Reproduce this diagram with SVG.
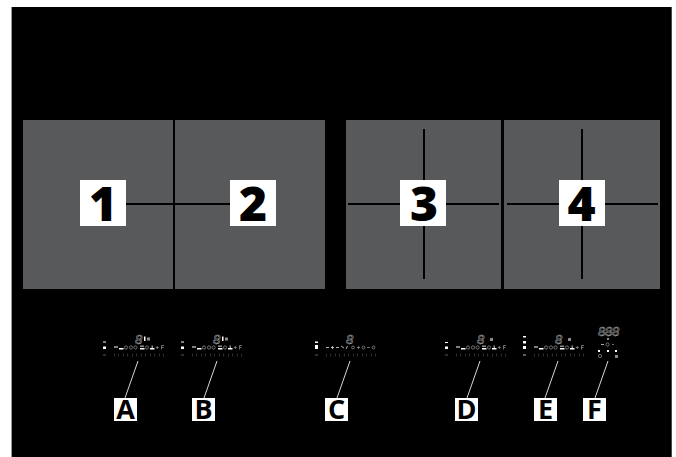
<svg xmlns="http://www.w3.org/2000/svg" xmlns:xlink="http://www.w3.org/1999/xlink" width="676" height="457" viewBox="0 0 676 457">
<style>
.panel{fill:#58595b}
.tag{fill:#fff}
.num{font-family:"Open Sans","Liberation Sans",sans-serif;font-weight:800;font-size:48px;text-anchor:middle;fill:#000}
.let{font-family:"Open Sans","Liberation Sans",sans-serif;font-weight:700;font-size:27px;text-anchor:middle;fill:#000}
.cut{stroke:#000;stroke-width:2;fill:none}
.lead{stroke:#d8d8d8;stroke-width:1;fill:none}
.seg{font-family:"Liberation Sans",sans-serif;font-style:italic;font-size:13px;fill:none;stroke:#d0d0d0;stroke-width:.4;text-anchor:middle}
.w{fill:#fff}
.g{fill:#8c8c8c}
.d{fill:#5a5a5a}
.ic{fill:none;stroke:#8c8c8c;stroke-width:.8}
</style>
<defs>
<g id="ticks">
<path d="M114.500 353.500v3M118.500 353.500v3M123.500 353.500v3M127.500 353.500v3M132.500 353.500v3M136.500 353.500v3M141.500 353.500v3M145.500 353.500v3M150.500 353.500v3M154.500 353.500v3M159.500 353.500v3M163.500 353.500v3" stroke="#3a3a3a" stroke-width=".8"/>
</g>
<g id="strip">
<rect class="w" x="114" y="346.500" width="4" height="1"/>
<rect class="w" x="119" y="348" width="4.500" height="1.500"/>
<circle class="ic" cx="126" cy="347.500" r="1.600"/>
<circle class="ic" cx="131" cy="347.500" r="1.600"/>
<circle class="ic" cx="135.500" cy="347.500" r="1.600"/>
<rect class="w" x="140" y="348" width="4.500" height="1.500"/>
<rect class="g" x="140" y="345.500" width="4" height="1.500"/>
<circle class="ic" cx="147" cy="347.500" r="1.600"/>
<rect class="w" x="150" y="348" width="4.500" height="1.500"/>
<rect class="g" x="151.500" y="345.500" width="1.500" height="2.500"/>
<path d="M155.800 347.500h3M157.300 346v3M161.500 349.500v-4h2.500M161.500 347.500h2" stroke="#8c8c8c" stroke-width=".8" fill="none"/>
<use href="#ticks"/>
</g>
</defs>
<rect x="0" y="0" width="676" height="457" fill="#fff"/>
<rect x="11" y="7" width="661" height="450" fill="#000"/>
<rect x="11" y="7" width="1" height="450" fill="#9a9a9a"/>
<rect x="671" y="7" width="1" height="450" fill="#4a4a4a"/>
<g id="panels">
<rect class="panel" x="23" y="120" width="150" height="169"/>
<rect class="panel" x="175" y="120" width="150" height="169"/>
<rect class="panel" x="346" y="120" width="155" height="169"/>
<rect class="panel" x="504" y="120" width="156" height="169"/>
</g>
<g id="connectors">
<path class="cut" d="M126 204H230M348 204H400M446 204H499M424 129V180M424 226V279M507 204H559M605 204H658M582 129V180M582 226V279"/>
<path class="lead" d="M125 398L138 361M204 398L217 361M337 398L350 361M467 398L480 361M545 398L558 361M595 398L608 361"/>
</g>
<g id="zone-1"><rect class="tag" x="80" y="180" width="46" height="46"/><text class="num" x="103" y="221">1</text></g>
<g id="zone-2"><rect class="tag" x="230" y="180" width="46" height="46"/><text class="num" x="253" y="221">2</text></g>
<g id="zone-3"><rect class="tag" x="400" y="180" width="46" height="46"/><text class="num" x="424" y="221">3</text></g>
<g id="zone-4"><rect class="tag" x="559" y="180" width="46" height="46"/><text class="num" x="581.500" y="221">4</text></g>
<g id="control-a">
<text class="seg" x="138.500" y="344">8</text>
<rect class="w" x="144" y="336.500" width="1.500" height="4.500"/><rect class="g" x="147" y="337.500" width="3" height="3"/>
<rect class="w" x="103" y="341.500" width="3" height="1"/><rect class="w" x="103" y="346.500" width="3" height="2.500"/><rect class="d" x="103" y="354.500" width="3" height="1"/>
<use href="#strip"/>
<rect class="tag" x="114" y="398" width="23" height="23"/><text class="let" x="125.500" y="419">A</text>
</g>
<g id="control-b">
<text class="seg" x="216.500" y="344">8</text>
<rect class="w" x="222" y="336.500" width="1.500" height="4.500"/><rect class="g" x="225" y="337.500" width="3" height="3"/>
<rect class="w" x="181" y="341.500" width="3" height="1"/><rect class="w" x="181" y="346.500" width="3" height="2.500"/><rect class="d" x="181" y="354.500" width="3" height="1"/>
<use href="#strip" x="78"/>
<rect class="tag" x="192" y="398" width="23" height="23"/><text class="let" x="203.500" y="419">B</text>
</g>
<g id="control-c">
<text class="seg" x="349.500" y="344">8</text>
<rect class="w" x="315" y="341.500" width="3" height="1.500"/><rect class="w" x="315" y="345" width="3" height="4"/><rect class="d" x="315" y="354.500" width="3" height="1"/>
<path d="M326 347.500h3M331 347.500h3M332.500 346v3M336 347.500h3M341 346l3 2M346 349l1.500-3" stroke="#c8c8c8" stroke-width=".9" fill="none"/>
<circle class="ic" cx="353" cy="347.500" r="1.400"/><path d="M357 347.500h3M358.500 346v3" stroke="#8c8c8c" stroke-width=".8"/><circle class="ic" cx="363.500" cy="347.500" r="1.400"/><path d="M367 347.500h3" stroke="#8c8c8c" stroke-width=".8"/><circle class="ic" cx="373.500" cy="347.500" r="1.400"/>
<use href="#ticks" x="212"/>
<rect class="tag" x="325" y="398" width="23" height="23"/><text class="let" x="336.500" y="419">C</text>
</g>
<g id="control-d">
<text class="seg" x="480.500" y="344">8</text>
<rect class="g" x="490" y="338" width="3" height="3"/>
<rect class="w" x="445" y="342" width="3" height="1"/><rect class="w" x="445" y="346.500" width="3" height="2.500"/><rect class="d" x="445" y="354.500" width="3" height="1"/>
<use href="#strip" x="342"/>
<rect class="tag" x="455" y="398" width="23" height="23"/><text class="let" x="466.500" y="419">D</text>
</g>
<g id="control-e">
<text class="seg" x="558.500" y="344">8</text>
<rect class="g" x="568" y="338" width="3" height="3"/>
<rect class="w" x="523" y="336" width="3" height="1.500"/><rect class="w" x="523" y="341" width="3" height="2.500"/><rect class="w" x="523" y="346" width="3" height="3"/><rect class="d" x="523" y="354" width="3" height="2"/>
<use href="#strip" x="420"/>
<rect class="tag" x="534" y="398" width="23" height="23"/><text class="let" x="545.500" y="419">E</text>
</g>
<g id="control-f">
<text class="seg" x="601.500" y="336">8</text><text class="seg" x="608.500" y="336">8</text><text class="seg" x="615.500" y="336">8</text>
<rect class="g" x="607" y="338" width="2" height="2"/>
<path d="M601 344.500h3" stroke="#aaa"/><circle class="ic" cx="607.500" cy="344.500" r="1.600"/><path d="M612 344.500h2" stroke="#666"/>
<rect class="w" x="598" y="350" width="2" height="2"/><rect class="w" x="607" y="350" width="2" height="2"/><rect class="w" x="615" y="350" width="2" height="2"/>
<circle class="ic" cx="600" cy="356" r="1.600"/><rect class="g" x="615" y="355" width="3" height="3"/>
<rect class="tag" x="583" y="398" width="23" height="23"/><text class="let" x="594.500" y="419">F</text>
</g>
</svg>
